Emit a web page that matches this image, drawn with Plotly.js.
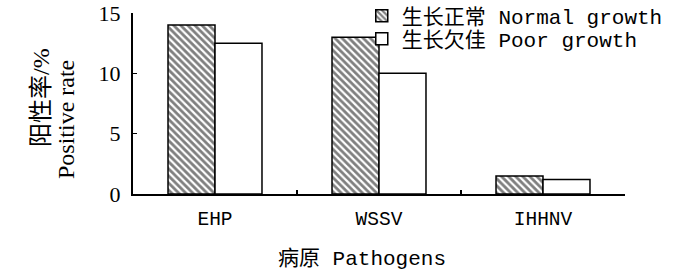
<!DOCTYPE html>
<html>
<head>
<meta charset="utf-8">
<script src="https://cdn.plot.ly/plotly-3.0.1.min.js"></script>
<style>html,body{margin:0;padding:0;background:#fff;}#chart{width:700px;height:273px;}</style>
</head>
<body>
<div id="chart"></div>
<script>
const categories = ["EHP", "WSSV", "IHHNV"];
const normalGrowth = [14.0, 13.0, 1.5];
const poorGrowth = [12.5, 10.0, 1.2];
const seriesNames = ["生长正常 Normal growth", "生长欠佳 Poor growth"];
const yTicks = [0, 5, 10, 15];
const xTitle = "病原 Pathogens";
const yTitleLines = ["阳性率/%", "Positive rate"];

const monoCJK = "'Liberation Mono', 'Noto Sans CJK SC', monospace";
const serifCJK = "'Liberation Serif', 'Noto Sans CJK SC', serif";

const traces = [
  {
    type: "bar", name: seriesNames[0], x: categories, y: normalGrowth, legend: "legend",
    marker: {
      color: "#ffffff",
      line: {color: "#000", width: 1.5},
      pattern: {shape: "\\", fgcolor: "#000", bgcolor: "#fff", size: 5, solidity: 0.55, fillmode: "overlay"}
    }
  },
  {
    type: "bar", name: seriesNames[1], x: categories, y: poorGrowth, legend: "legend2",
    marker: {color: "#ffffff", line: {color: "#000", width: 1.5}}
  }
];

const legendStyle = (y) => ({
  x: 0.465, y: y, xanchor: "left", yanchor: "middle",
  bgcolor: "rgba(0,0,0,0)", borderwidth: 0,
  font: {family: monoCJK, size: 21, color: "#000"}
});

const layout = {
  width: 700, height: 273,
  margin: {l: 133, r: 75, t: 13, b: 79, pad: 0, autoexpand: false},
  paper_bgcolor: "#fff", plot_bgcolor: "#fff",
  barmode: "group", bargap: 0.427, bargroupgap: 0,
  showlegend: true,
  legend: legendStyle(0.983),
  legend2: legendStyle(0.856),
  xaxis: {
    type: "category", range: [-0.5, 2.5], automargin: false,
    showline: true, linecolor: "#000", linewidth: 2,
    ticks: "inside", tickson: "boundaries", ticklen: 4, tickwidth: 2, tickcolor: "#000",
    showgrid: false, zeroline: false, ticklabelstandoff: 6,
    tickfont: {family: monoCJK, size: 19.5, color: "#000"}
  },
  yaxis: {
    range: [0, 15], tickvals: yTicks, automargin: false,
    showline: true, linecolor: "#000", linewidth: 2,
    ticks: "inside", ticklen: 4, tickwidth: 1.5, tickcolor: "#000",
    showgrid: false, zeroline: false, ticklabelstandoff: 6,
    tickfont: {family: serifCJK, size: 22, color: "#000"}
  },
  annotations: [
    {text: xTitle, xref: "paper", yref: "paper", x: 0.465, y: -0.36,
     xanchor: "center", yanchor: "middle", showarrow: false,
     font: {family: monoCJK, size: 21, color: "#000"}},
    {text: yTitleLines[0], xref: "paper", yref: "paper", x: -0.187, y: 0.536,
     xanchor: "center", yanchor: "middle", textangle: -90, showarrow: false,
     font: {family: serifCJK, size: 24, color: "#000"}},
    {text: yTitleLines[1], xref: "paper", yref: "paper", x: -0.136, y: 0.409,
     xanchor: "center", yanchor: "middle", textangle: -90, showarrow: false,
     font: {family: serifCJK, size: 24, color: "#000"}}
  ]
};

Plotly.newPlot("chart", traces, layout, {displayModeBar: false, staticPlot: true});
</script>
</body>
</html>
